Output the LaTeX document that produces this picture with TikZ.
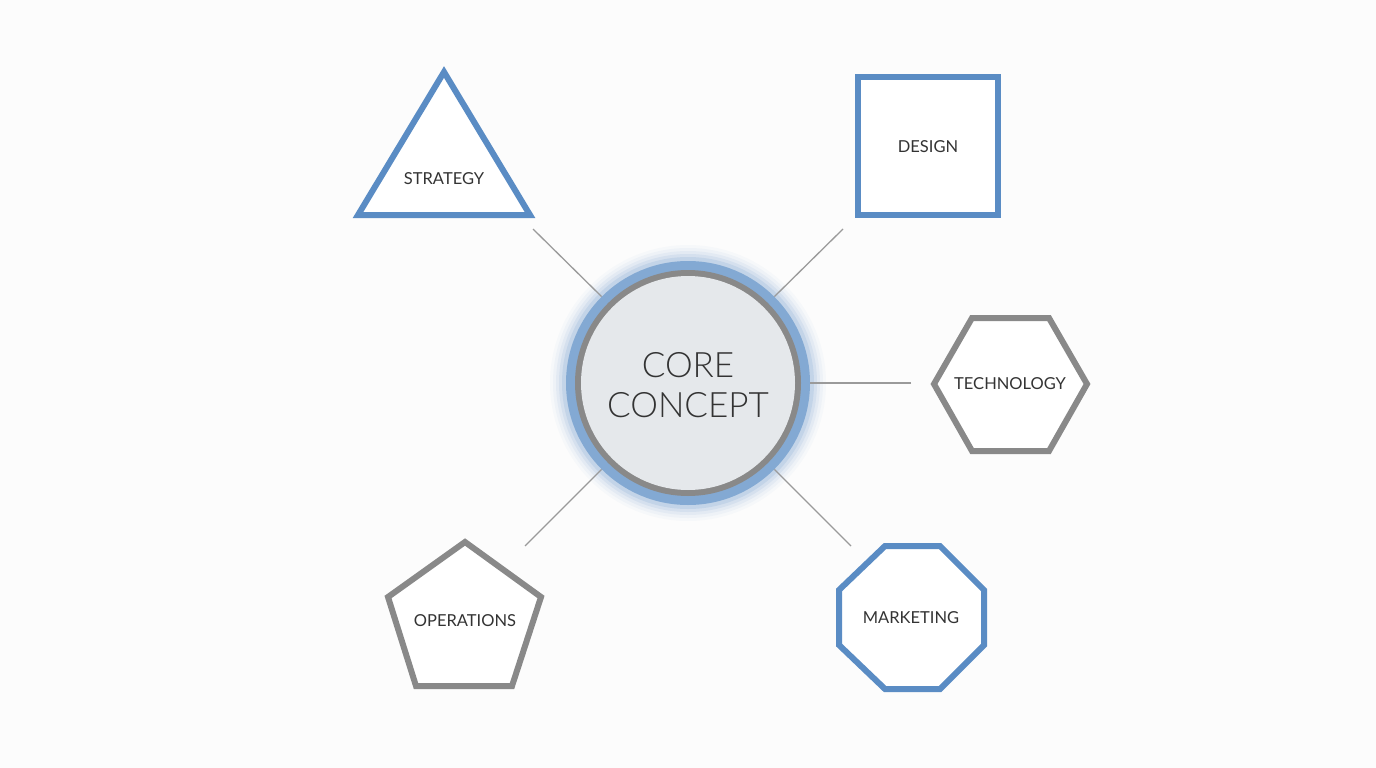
\documentclass[tikz,border=0pt]{standalone}
\usepackage{fontspec}
\setmainfont{Lato}
\newfontfamily\thinfont{Lato Light}
\definecolor{bgc}{HTML}{FCFCFC}
\definecolor{blueline}{HTML}{5A8CC4}
\definecolor{grayline}{HTML}{898989}
\definecolor{connc}{HTML}{9A9A9A}
\definecolor{corefill}{HTML}{E5E8EB}
\definecolor{txt}{HTML}{333333}
\begin{document}
\begin{tikzpicture}[x=1pt,y=-1pt,
  shapeline/.style={line width=6pt,line join=miter,fill=white},
  bluebox/.style={shapeline,draw=blueline},
  graybox/.style={shapeline,draw=grayline},
  lbl/.style={text=txt,font=\fontsize{16.5}{18}\selectfont},
  conn/.style={draw=connc,line width=1.3pt}]
\fill[bgc] (0,0) rectangle (1376,768);
\useasboundingbox (0,0) rectangle (1376,768);
% glow
\foreach \r/\o in {138/0.03,135/0.05,132/0.07,129/0.10,126/0.14}{
  \fill[blueline,opacity=\o] (688,383) circle (\r);
}
\fill[blueline!75!white] (688,383) circle (122);
\fill[grayline] (688,383) circle (113);
\fill[corefill] (688,383) circle (107);
\node[circle,minimum size=244pt,inner sep=0pt] (core) at (688,383) {};
\node[align=center,text=txt,font=\thinfont\fontsize{35}{40}\selectfont] (coretxt) at (688,385) {CORE\\CONCEPT};
% shapes
\draw[bluebox] (444,72) -- (530,215) -- (358,215) -- cycle;
\node[lbl] (strat) at (444,179) {STRATEGY};
\draw[bluebox] (858,77) rectangle (998,215);
\node[lbl] (design) at (928,147) {DESIGN};
\draw[graybox] (934,384) -- (972,318) -- (1049,318) -- (1087,384) -- (1049,451) -- (972,451) -- cycle;
\node[lbl] (tech) at (1010,384) {TECHNOLOGY};
\draw[graybox] (465,542) -- (541,597) -- (512,686) -- (416,686) -- (388,597) -- cycle;
\node[lbl] (ops) at (465,621) {OPERATIONS};
\draw[bluebox] (885,546) -- (940,546) -- (984,590) -- (984,645) -- (940,689) -- (885,689) -- (839,645) -- (839,590) -- cycle;
\node[lbl] (mkt) at (911,618) {MARKETING};
% connectors
\coordinate (c1) at (533,229);
\coordinate (c2) at (843,229);
\coordinate (c3) at (911,383);
\coordinate (c4) at (525,546);
\coordinate (c5) at (851,546);
\draw[conn] (c1) -- (core.135);
\draw[conn] (c2) -- (core.45);
\draw[conn] (c3) -- (core.0);
\draw[conn] (c4) -- (core.225);
\draw[conn] (c5) -- (core.315);
\end{tikzpicture}
\end{document}
